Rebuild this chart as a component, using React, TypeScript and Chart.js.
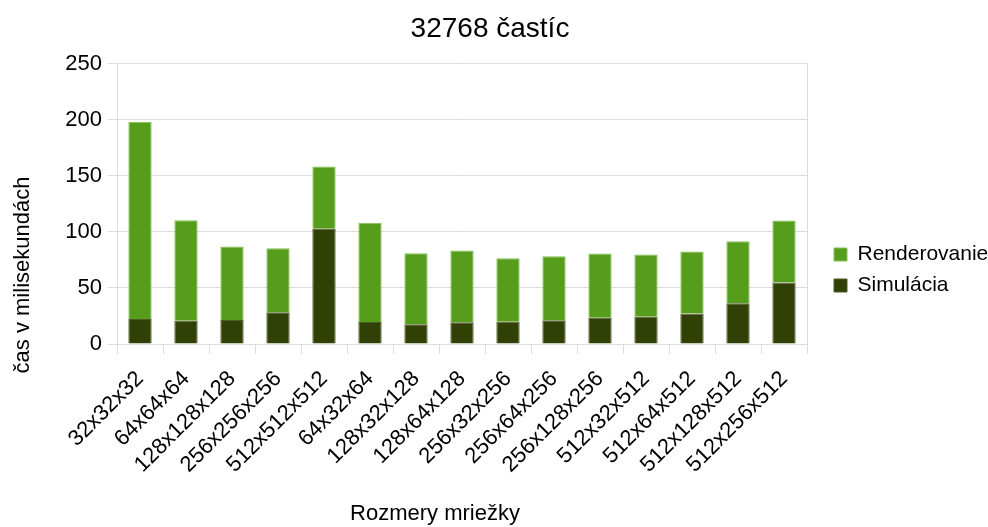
import React, { useEffect, useRef } from "react";
import { Chart, registerables } from "chart.js";

Chart.register(...registerables);

// Grid sizes (categories)
const gridSizes = [
  "32x32x32",
  "64x64x64",
  "128x128x128",
  "256x256x256",
  "512x512x512",
  "64x32x64",
  "128x32x128",
  "128x64x128",
  "256x32x256",
  "256x64x256",
  "256x128x256",
  "512x32x512",
  "512x64x512",
  "512x128x512",
  "512x256x512",
];

// Time in milliseconds
const simulacia = [22.3, 20.8, 21.4, 28.3, 102.7, 19.6, 17.6, 19.3, 19.9, 21.1, 23.5, 24.4, 27.1, 36.3, 54.8];
const renderovanie = [175.9, 89.6, 65.5, 57.1, 55.6, 88.4, 63.4, 64.0, 56.6, 57.2, 57.2, 55.4, 55.3, 55.4, 55.3];

const chartTitle = "32768 častíc";
const xTitle = "Rozmery mriežky";
const yTitle = "čas v milisekundách";

const FONT = "'Liberation Sans', Arial, sans-serif";
const GRID = "#dcdcdc";

// Axis titles drawn outside the plot, centred where the layout wants them
const axisTitles = {
  id: "axisTitles",
  afterDraw(chart: any) {
    const { ctx } = chart;
    ctx.save();
    ctx.font = `22px ${FONT}`;
    ctx.fillStyle = "#000";
    ctx.textAlign = "center";
    ctx.textBaseline = "middle";
    ctx.fillText(xTitle, 435, 514);
    ctx.translate(23, 275);
    ctx.rotate(-Math.PI / 2);
    ctx.fillText(yTitle, 0, 0);
    ctx.restore();
  },
};

// Put the legend to the right of the plot area and centre the title on the page
const boxPlacement = {
  id: "boxPlacement",
  afterLayout(chart: any) {
    const lg = chart.legend;
    if (lg) {
      const w = 164;
      const h = 80;
      lg.left = chart.chartArea.right + 17;
      lg.right = lg.left + w;
      lg.top = 234;
      lg.bottom = lg.top + h;
      lg.width = w;
      lg.height = h;
    }
    const t = chart.titleBlock;
    if (t) {
      t.left = 0;
      t.right = chart.width - 8;
      t.width = t.right;
    }
  },
};

export default function App() {
  const canvasRef = useRef<HTMLCanvasElement | null>(null);

  useEffect(() => {
    if (!canvasRef.current) return;
    const chart = new Chart(canvasRef.current, {
      type: "bar",
      data: {
        labels: gridSizes,
        datasets: [
          {
            label: "Simulácia",
            data: simulacia,
            backgroundColor: "#314004",
            borderColor: "#4d5c27",
            borderWidth: 1,
            barPercentage: 0.507,
            categoryPercentage: 1,
          },
          {
            label: "Renderovanie",
            data: renderovanie,
            backgroundColor: "#579d1c",
            borderColor: "#86c25a",
            borderWidth: 1,
            barPercentage: 0.507,
            categoryPercentage: 1,
          },
        ],
      },
      options: {
        responsive: false,
        animation: false,
        layout: { padding: { left: 0, right: 181, top: 0, bottom: 0 } },
        plugins: {
          title: {
            display: true,
            text: chartTitle,
            color: "#000",
            font: { family: FONT, size: 28, weight: "normal" },
            padding: { top: 12, bottom: 18 },
          },
          legend: {
            position: "chartArea",
            align: "start",
            reverse: true,
            labels: {
              boxWidth: 13,
              boxHeight: 13,
              padding: 10,
              color: "#000",
              font: { family: FONT, size: 21 },
            },
          },
          tooltip: { enabled: false },
        },
        scales: {
          x: {
            stacked: true,
            offset: true,
            grid: {
              offset: true,
              drawOnChartArea: true,
              color: (ctx: any) => (ctx.type === "tick" ? "transparent" : GRID),
              tickColor: GRID,
              tickLength: 10,
            },
            border: { color: GRID },
            ticks: {
              color: "#000",
              font: { family: FONT, size: 22 },
              minRotation: 45,
              maxRotation: 45,
              autoSkip: false,
              padding: 12,
            },
            afterFit(scale: any) {
              scale.height = 183;
            },
          },
          y: {
            stacked: true,
            min: 0,
            max: 250,
            grid: { color: GRID, tickColor: GRID, tickLength: 9 },
            border: { color: GRID },
            ticks: {
              stepSize: 50,
              color: "#000",
              font: { family: FONT, size: 22 },
              padding: 6,
            },
            afterFit(scale: any) {
              scale.width = 117;
            },
          },
        },
      },
      plugins: [axisTitles, boxPlacement],
    });
    return () => chart.destroy();
  }, []);

  return (
    <div style={{ position: "absolute", left: 0, top: 0, width: 988, height: 527, background: "#fff" }}>
      <canvas ref={canvasRef} width={988} height={527} style={{ display: "block" }} />
    </div>
  );
}
